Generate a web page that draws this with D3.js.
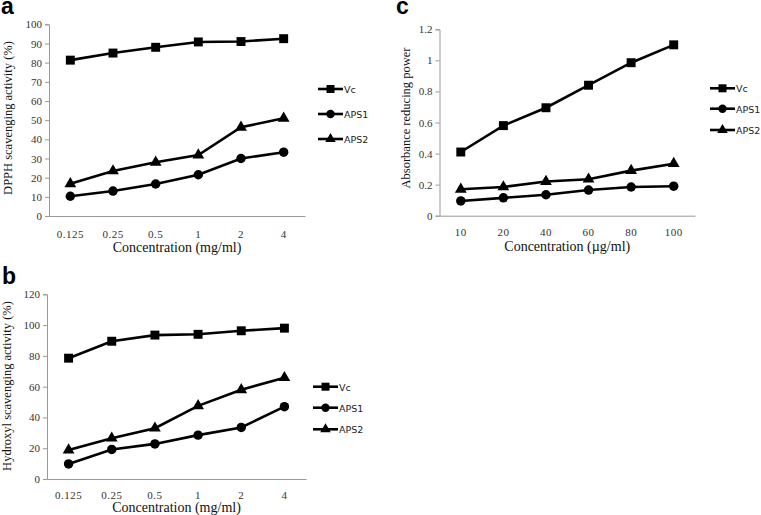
<!DOCTYPE html>
<html><head><meta charset="utf-8">
<script src="https://cdn.jsdelivr.net/npm/d3@7"></script>
<style>body{margin:0;background:#fff}svg{display:block}</style>
</head><body>
<svg id="chart" width="761" height="515"></svg>
<script>
const seriesNames = ["Vc", "APS1", "APS2"];
const catsMg = ["0.125", "0.25", "0.5", "1", "2", "4"];
const catsUg = ["10", "20", "40", "60", "80", "100"];
const aVc = [81.3, 85, 88, 90.8, 91, 92.5];
const aAPS1 = [10.3, 13, 16.7, 21.5, 30, 33.3];
const aAPS2 = [16.8, 23.5, 28, 31.8, 46.3, 51];
const bVc = [78.5, 89.5, 93.5, 94, 96.3, 98];
const bAPS1 = [9.8, 19.2, 22.8, 28.5, 33.5, 47];
const bAPS2 = [18.8, 26.5, 33, 47.5, 58, 65.8];
const cVc = [0.41, 0.58, 0.695, 0.84, 0.985, 1.1];
const cAPS1 = [0.095, 0.115, 0.135, 0.165, 0.185, 0.19];
const cAPS2 = [0.17, 0.185, 0.22, 0.235, 0.29, 0.335];
const aTicks = [0,10,20,30,40,50,60,70,80,90,100];
const bTicks = [0,20,40,60,80,100,120];
const cTicks = [0,0.2,0.4,0.6,0.8,1,1.2];

const svg = d3.select("#chart");
const symbols = [d3.symbolSquare, d3.symbolCircle, d3.symbolTriangle];
const symSizes = [80, 70, 60];

function panel(p) {
  const g = svg.append("g");
  const x = d3.scaleBand().domain(p.cats).range([p.x0, p.x1]);
  const y = d3.scaleLinear().domain([0, p.ticks[p.ticks.length-1]]).range([p.y0, p.y1]);
  const yAxis = d3.axisLeft(y).tickValues(p.ticks).tickSize(4).tickFormat(p.fmt);
  const ya = g.append("g").attr("transform", `translate(${p.x0},0)`).call(yAxis);
  ya.select(".domain").attr("stroke", "#999");
  ya.selectAll(".tick line").attr("stroke", "#999");
  ya.selectAll("text").attr("font-family", "Liberation Serif, serif").attr("font-size", 11).attr("fill", "#333").attr("x", -7);
  const xAxis = d3.axisBottom(x).tickSize(0).tickPadding(p.xpad);
  const xa = g.append("g").attr("transform", `translate(0,${p.y0})`).call(xAxis);
  xa.select(".domain").attr("stroke", "#999");
  xa.selectAll("text").attr("font-family", "Liberation Serif, serif").attr("font-size", 11).attr("fill", "#333").attr("letter-spacing", 0.5);
  const line = d3.line().x((d,i)=>x(p.cats[i]) + x.bandwidth()/2).y(d=>y(d));
  p.series.forEach((s, k) => {
    g.append("path").datum(s).attr("d", line).attr("fill","none").attr("stroke","#000").attr("stroke-width",2.6);
    g.selectAll(null).data(s).enter().append("path")
      .attr("d", d3.symbol().type(symbols[k]).size(symSizes[k]))
      .attr("transform", (d,i)=>`translate(${x(p.cats[i]) + x.bandwidth()/2},${y(d)})`)
      .attr("fill","#000");
  });
  // legend
  p.legY.forEach((ly, k) => {
    g.append("line").attr("x1", p.legX).attr("x2", p.legX+25).attr("y1", ly).attr("y2", ly).attr("stroke","#000").attr("stroke-width",2.6);
    g.append("path").attr("d", d3.symbol().type(symbols[k]).size(symSizes[k]*0.8))
      .attr("transform", `translate(${p.legX+12.5},${ly})`).attr("fill","#000");
    g.append("text").attr("x", p.legX+26).attr("y", ly+4).text(seriesNames[k])
      .attr("font-family","DejaVu Sans, sans-serif").attr("font-size",9.5).attr("fill","#222");
  });
  g.append("text").attr("x", (p.x0+p.x1)/2).attr("y", p.xtY).attr("text-anchor","middle")
    .attr("font-family","Liberation Serif, serif").attr("font-size",14).attr("fill","#111").text(p.xTitle);
  g.append("text").attr("transform", `translate(${p.ytX},${p.ytY}) rotate(-90)`).attr("text-anchor","middle")
    .attr("font-family","Liberation Serif, serif").attr("font-size",p.ytSize).attr("fill","#111").text(p.yTitle);
  g.append("text").attr("x", p.lx).attr("y", p.ly).text(p.label)
    .attr("font-family","Liberation Sans, Arial, sans-serif").attr("font-weight","bold").attr("font-size",23).attr("fill","#000");
}

panel({cats: catsMg, series:[aVc,aAPS1,aAPS2], ticks:aTicks, fmt:d3.format("d"),
  x0:49, x1:305, y0:216, y1:24.3, xpad:14,
  legX:318, legY:[89,114,139], xTitle:"Concentration (mg/ml)", xtY:252,
  yTitle:"DPPH  scavenging  activity (%)", ytX:12, ytY:118, ytSize:12.5, label:"a", lx:1, ly:13.5});
panel({cats: catsMg, series:[bVc,bAPS1,bAPS2], ticks:bTicks, fmt:d3.format("d"),
  x0:47, x1:306, y0:479, y1:294.3, xpad:12,
  legX:313, legY:[386.7,407.7,429.3], xTitle:"Concentration (mg/ml)", xtY:512,
  yTitle:"Hydroxyl  scavenging  activity (%)", ytX:11, ytY:386, ytSize:12.5, label:"b", lx:2, ly:284});
panel({cats: catsUg, series:[cVc,cAPS1,cAPS2], ticks:cTicks, fmt:d=>String(d),
  x0:439.5, x1:695, y0:215.7, y1:29.3, xpad:13,
  legX:710, legY:[88.3,108.7,130], xTitle:"Concentration (\u00b5g/ml)", xtY:251,
  yTitle:"Absorbance reducing power", ytX:410, ytY:118, ytSize:12.5, label:"c", lx:396, ly:13.5});
</script>
</body></html>
